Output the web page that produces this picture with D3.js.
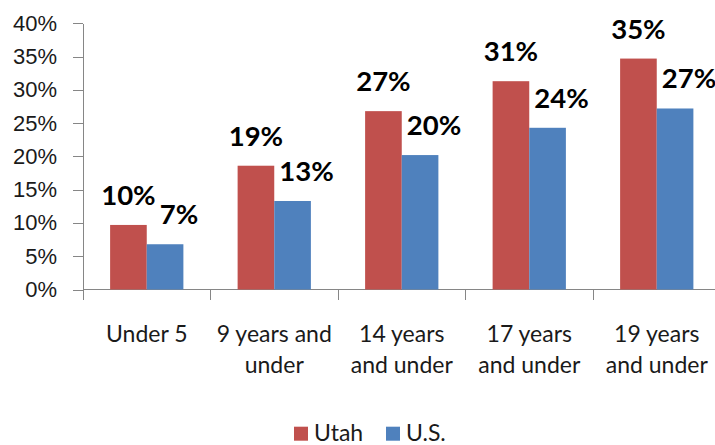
<!DOCTYPE html>
<html lang="en">
<head>
    <meta charset="utf-8">
    <style>
        body { margin: 0; background: #fff; }
        svg { display: block; font-family: Lato, "Open Sans", sans-serif; }
        .axis path, .axis line { stroke: #868686; shape-rendering: crispEdges; }
        .axis text { fill: #1a1a1a; font-size: 22px; }
        .cat { fill: #1a1a1a; font-size: 23px; }
        .val { fill: #000; font-size: 27.5px; font-weight: bold; }
        .legend text { fill: #1a1a1a; font-size: 23px; }
    </style>
</head>
<body>
<svg id="chart" width="715" height="445"></svg>
<script src="https://cdn.jsdelivr.net/npm/d3@7"></script>
<script>
    // age groups, each label split into its printed lines
    var categories = ["Under 5", "9 years and under", "14 years and under", "17 years and under", "19 years and under"];
    var catLines = [["Under 5"], ["9 years and", "under"], ["14 years", "and under"], ["17 years", "and under"], ["19 years", "and under"]];
    var series = ["Utah", "U.S."];
    var colors = ["#C0504D", "#4F81BD"];
    var utah = [9.7, 18.6, 26.8, 31.3, 34.7];
    var us = [6.8, 13.3, 20.2, 24.3, 27.2];
    var utahLabels = ["10%", "19%", "27%", "31%", "35%"];
    var usLabels = ["7%", "13%", "20%", "24%", "27%"];
    var yTicks = [0, 5, 10, 15, 20, 25, 30, 35, 40];

    var svg = d3.select("#chart");
    var plotL = 83, plotR = 720.5, plotT = 23.3, plotB = 289.5;

    var x0 = d3.scaleBand().domain(categories).range([plotL, plotR]).padding(0);
    var x1 = d3.scaleBand().domain(series).range([0, x0.bandwidth()]).paddingInner(0).paddingOuter(0.74);
    var y = d3.scaleLinear().domain([0, 40]).range([plotB, plotT]);

    // y axis
    svg.append("g")
        .attr("class", "axis")
        .attr("transform", "translate(" + plotL + ",0)")
        .call(d3.axisLeft(y).tickValues(yTicks).tickSize(10).tickSizeOuter(0).tickPadding(16)
            .tickFormat(function (d) { return d + "%"; }));

    // x axis line + boundary ticks
    var xa = svg.append("g").attr("class", "axis");
    xa.append("line")
        .attr("x1", plotL).attr("x2", plotR)
        .attr("y1", plotB).attr("y2", plotB);
    xa.selectAll("line.tick")
        .data(categories.concat([null]))
        .enter().append("line")
        .attr("class", "tick")
        .attr("x1", function (d) { return d === null ? plotR : x0(d); })
        .attr("x2", function (d) { return d === null ? plotR : x0(d); })
        .attr("y1", plotB).attr("y2", plotB + 10);

    // bars
    var groups = svg.selectAll("g.grp")
        .data(categories)
        .enter().append("g")
        .attr("class", "grp")
        .attr("transform", function (d) { return "translate(" + x0(d) + ",0)"; });

    groups.selectAll("rect")
        .data(function (d, i) { return [{ s: series[0], v: utah[i], c: colors[0] }, { s: series[1], v: us[i], c: colors[1] }]; })
        .enter().append("rect")
        .attr("x", function (d) { return x1(d.s); })
        .attr("width", x1.bandwidth())
        .attr("y", function (d) { return y(d.v); })
        .attr("height", function (d) { return y(0) - y(d.v); })
        .attr("fill", function (d) { return d.c; });

    // data labels (U.S. ones sit nudged to the right like the original)
    groups.selectAll("text.val")
        .data(function (d, i) { return [{ s: series[0], v: utah[i], t: utahLabels[i] }, { s: series[1], v: us[i], t: usLabels[i] }]; })
        .enter().append("text")
        .attr("class", "val")
        .attr("text-anchor", "middle")
        .attr("x", function (d) { return x1(d.s) + x1.bandwidth() / 2 + (d.s === "U.S." ? 14 : 0); })
        .attr("y", function (d) { return y(d.v) - 20; })
        .text(function (d) { return d.t; });

    // category labels
    groups.append("text")
        .attr("class", "cat")
        .attr("text-anchor", "middle")
        .attr("transform", "translate(" + (x0.bandwidth() / 2) + "," + 341.7 + ")")
        .selectAll("tspan")
        .data(function (d, i) { return catLines[i]; })
        .enter().append("tspan")
        .attr("x", 0)
        .attr("dy", function (d, i) { return i === 0 ? 0 : 31; })
        .text(function (d) { return d; });

    // legend
    var lg = svg.append("g").attr("class", "legend");
    var legX = [294, 386];
    series.forEach(function (s, i) {
        lg.append("rect")
            .attr("x", legX[i]).attr("y", 426.7)
            .attr("width", 14).attr("height", 14)
            .attr("fill", colors[i]);
        lg.append("text")
            .attr("x", legX[i] + 20).attr("y", 441)
            .text(s);
    });
</script>
</body>
</html>
